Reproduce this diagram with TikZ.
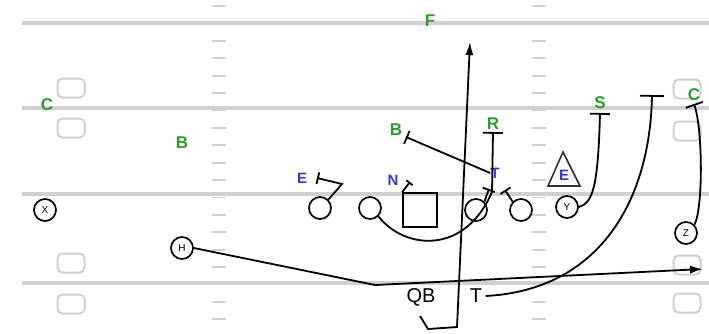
\documentclass[tikz,border=0pt]{standalone}
\usepackage{fontspec}
\setmainfont{Liberation Sans}
\usetikzlibrary{arrows.meta}

\definecolor{defgreen}{RGB}{45,155,45}
\definecolor{defblue}{RGB}{55,55,215}
\definecolor{fieldgray}{RGB}{208,208,208}

\tikzset{
  yard/.style={line width=4.5pt, fieldgray},
  hashmark/.style={line width=1.8pt, fieldgray},
  numbox/.style={draw=fieldgray, line width=2pt, rounded corners=5pt, minimum width=27pt, minimum height=19pt},
  man/.style={draw, circle, line width=1.7pt, minimum size=22pt, inner sep=0pt, font=\fontsize{10}{10}\selectfont},
  lb/.style={text=defgreen, font=\fontsize{17}{17}\selectfont\bfseries, inner sep=0pt},
  dl/.style={text=defblue, font=\fontsize{15}{15}\selectfont\bfseries, inner sep=0pt},
  route/.style={line width=1.8pt},
  endbar/.style={route, -{Bar[width=#1]}},
  go/.style={route, -{Latex[length=13pt, width=8pt]}}
}

\begin{document}
\begin{tikzpicture}[x=1pt, y=-1pt]
\fill[white] (0,0) rectangle (709,333);
\useasboundingbox (0,0) rectangle (709,333);

% field
\foreach \yy in {23,108,194,283}
  \draw[yard] (22,\yy) -- (709,\yy);
\foreach \k in {0,...,19} {
  \draw[hashmark] (212,6.1+17.4*\k) -- (226,6.1+17.4*\k);
  \draw[hashmark] (532,6.1+17.4*\k) -- (546,6.1+17.4*\k);
}
\foreach \bx/\by [count=\i] in {71/88, 71/128, 71/263, 71/304, 687/89, 687/131, 687/265, 687/303}
  \node[numbox] (box\i) at (\bx,\by) {};

% offense
\node[man] (x) at (45,210) {X};
\node[man] (h) at (182,248) {H};
\node[man] (g1) at (320,208) {};
\node[man] (g2) at (370,208) {};
\node[draw, line width=1.7pt, minimum size=34pt, inner sep=0pt] (ctr) at (420,210) {};
\node[man] (g4) at (476,210) {};
\node[man] (g5) at (521,210) {};
\node[man] (y) at (567,207) {Y};
\node[man] (z) at (686,233) {Z};
\node[font=\fontsize{20}{20}\selectfont] (qb) at (421,297) {QB};
\node[font=\fontsize{20}{20}\selectfont] (tb) at (476,296) {T};

% defense
\node[lb] (cl) at (47,105) {C};
\node[lb] (bl) at (182,143) {B};
\node[lb] (fs) at (430,21) {F};
\node[lb] (bm) at (396,130) {B};
\node[lb] (rv) at (493,124) {R};
\node[lb] (ss) at (600,103) {S};
\node[lb] (cr) at (694,95) {C};
\node[dl] (e1) at (302,178) {E};
\node[dl] (nt) at (393,180) {N};
\node[dl] (dt) at (495,173) {T};
\draw[line width=1.6pt, black!80] (563,152) -- (548,186) -- (580,186) -- cycle;
\node[dl] (e2) at (564,175) {E};

% routes
\coordinate (qb0) at (420,316);
\coordinate (qb1) at (428,329);
\coordinate (qb2) at (457,327);
\coordinate (deep) at (470,42);
\draw[go] (qb0) -- (qb1) -- (qb2) -- (deep);

\coordinate (hk) at (375,285);
\coordinate (hend) at (703,269);
\draw[go] (h.east) -- (hk) -- (hend);

\coordinate (tbar) at (652,95);
\draw[endbar=24pt] (tb.east) .. controls (600,290) and (650,200) .. (tbar);

\coordinate (sbar) at (600,113);
\draw[endbar=20pt] (y.east) .. controls (592,203) and (598,190) .. (sbar);

\coordinate (cbar) at (694,104);
\draw[endbar=18pt] (z.north east) .. controls (703,210) and (703,130) .. (cbar);

\coordinate (rbar) at (493,132);
\coordinate (tk) at (492,192);
\draw[endbar=20pt] (tk) -- (rbar);

\coordinate (bbar) at (406,137);
\draw[endbar=14pt] (dt.west) -- (bbar);

\coordinate (e1k) at (342,184);
\coordinate (ebar) at (317,178);
\draw[endbar=12pt] (g1.north east) -- (e1k) -- (ebar);

\coordinate (nbar) at (410,182);
\draw[endbar=8pt] (ctr.north west) -- (nbar);

\draw[route] (g2.south east) .. controls (405,250) and (465,255) .. (tk);

\coordinate (g4bar) at (489,189);
\draw[endbar=13pt] (g4.north east) -- (g4bar);
\coordinate (g5bar) at (505,190);
\draw[endbar=12pt] (g5.north west) -- (g5bar);
\end{tikzpicture}
\end{document}
